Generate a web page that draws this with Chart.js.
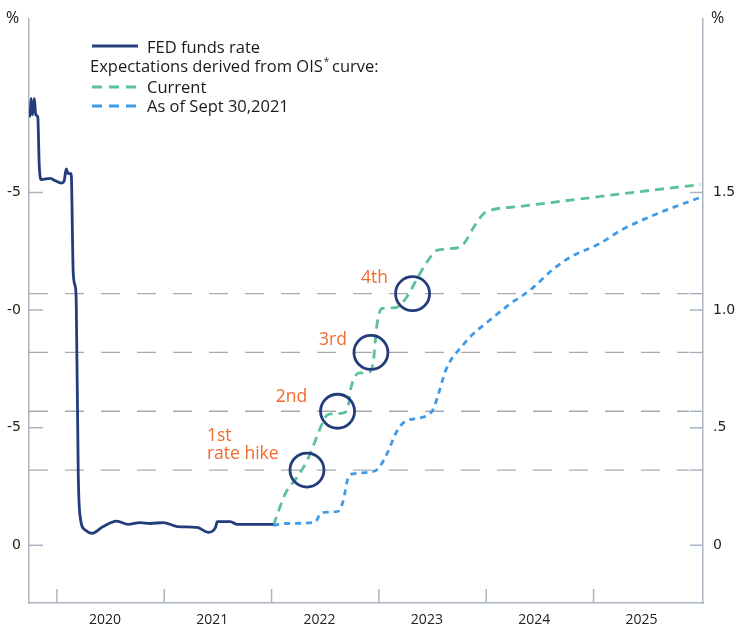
<!DOCTYPE html>
<html>
<head>
<meta charset="utf-8">
<script src="https://cdn.jsdelivr.net/npm/chart.js@4.4.1/dist/chart.umd.min.js"></script>
<style>
  html, body { margin: 0; padding: 0; background: #fff; }
  #wrap { width: 741px; height: 641px; }
</style>
</head>
<body>
<div id="wrap"><canvas id="fedChart"></canvas></div>
<script>
// FED funds rate (decimal years, %)
const fedDates = [2019.742, 2019.752, 2019.760, 2019.772, 2019.790, 2019.803, 2019.822, 2019.835, 2019.854,
  2019.938, 2019.984, 2020.040, 2020.068, 2020.087, 2020.105, 2020.133, 2020.152, 2020.171, 2020.180,
  2020.199, 2020.217, 2020.264, 2020.326, 2020.431, 2020.559, 2020.664, 2020.776, 2020.870, 2020.991,
  2021.121, 2021.308, 2021.410, 2021.478, 2021.494, 2021.615, 2021.680, 2021.988, 2022.016];
const fedRates = [1.82, 1.84, 1.90, 1.83, 1.90, 1.83, 1.82, 1.62, 1.555,
  1.56, 1.55, 1.54, 1.55, 1.60, 1.58, 1.58, 1.16, 1.10, 1.04,
  0.30, 0.12, 0.065, 0.051, 0.08, 0.103, 0.089, 0.097, 0.093, 0.097,
  0.080, 0.076, 0.055, 0.076, 0.101, 0.101, 0.089, 0.089, 0.089];

// Expectations derived from OIS curve: current
const currentDates = [2022.018, 2022.128, 2022.237, 2022.330, 2022.407, 2022.482, 2022.516, 2022.563, 2022.671,
  2022.718, 2022.733, 2022.780, 2022.808, 2022.901, 2022.948, 2022.966, 2022.982, 2023.029, 2023.153,
  2023.200, 2023.274, 2023.355, 2023.448, 2023.544, 2023.758, 2023.814, 2023.889, 2023.976, 2024.038,
  2024.317, 2024.690, 2025.063, 2025.436, 2025.995];
const currentRates = [0.085, 0.22, 0.289, 0.359, 0.444, 0.528, 0.553, 0.559, 0.563,
  0.60, 0.655, 0.718, 0.732, 0.735, 0.78, 0.866, 0.938, 1.007, 1.01,
  1.022, 1.065, 1.133, 1.204, 1.255, 1.267, 1.297, 1.356, 1.41, 1.424,
  1.441, 1.462, 1.483, 1.504, 1.534];

// Expectations as of Sept 30, 2021
const septDates = [2022.016, 2022.128, 2022.407, 2022.454, 2022.516, 2022.622, 2022.668, 2022.715, 2022.761,
  2022.966, 2023.013, 2023.075, 2023.169, 2023.246, 2023.321, 2023.495, 2023.554, 2023.619, 2023.681,
  2023.759, 2023.852, 2024.038, 2024.225, 2024.411, 2024.630, 2024.784, 2025.063, 2025.250, 2025.622,
  2025.995];
const septRates = [0.085, 0.093, 0.098, 0.135, 0.141, 0.145, 0.19, 0.289, 0.304,
  0.317, 0.338, 0.389, 0.486, 0.528, 0.537, 0.57, 0.642, 0.739, 0.795,
  0.838, 0.887, 0.959, 1.027, 1.086, 1.176, 1.225, 1.284, 1.338, 1.415,
  1.479];

// rate hikes
const hikeLevels = [0.32, 0.57, 0.82, 1.07];
const hikeDates = [2022.330, 2022.615, 2022.926, 2023.314];
const hikeLabels = [['1st', 'rate hike'], ['2nd'], ['3rd'], ['4th']];

const yearTicks = [2020, 2021, 2022, 2023, 2024, 2025, 2026];
const yearLabels = ['2020', '2021', '2022', '2023', '2024', '2025', ''];
const leftTicks = [0, 0.5, 1.0, 1.5];
const leftTickLabels = ['0', '-5', '-0', '-5'];
const rightTickLabels = ['0', '.5', '1.0', '1.5'];

const axisColor = '#aab5c1';
const fedColor = '#223d7a';
const currentColor = '#5cc09f';
const septColor = '#3f9ae8';
const orange = '#f26a2c';

function pts(xs, ys) {
  return xs.map((x, i) => ({ x: x, y: ys[i] }));
}

const extrasPlugin = {
  id: 'extras',
  beforeDatasetsDraw(chart) {
    const ctx = chart.ctx;
    const x = chart.scales.x, y = chart.scales.y;
    const a = chart.chartArea;
    ctx.save();
    // dashed hike levels
    ctx.strokeStyle = '#a3aab2';
    ctx.lineWidth = 1.3;
    hikeLevels.forEach(v => {
      const py = y.getPixelForValue(v);
      ctx.setLineDash([19, 17]);
      ctx.beginPath();
      ctx.moveTo(a.left, py);
      ctx.lineTo(a.right - 14, py);
      ctx.stroke();
      ctx.setLineDash([]);
      ctx.beginPath();
      ctx.moveTo(a.right - 13, py);
      ctx.lineTo(a.right, py);
      ctx.stroke();
    });
    // inward tick marks
    ctx.strokeStyle = axisColor;
    ctx.lineWidth = 1.5;
    leftTicks.forEach(v => {
      const py = y.getPixelForValue(v);
      ctx.beginPath();
      ctx.moveTo(a.left, py); ctx.lineTo(a.left + 14, py);
      ctx.moveTo(a.right, py); ctx.lineTo(a.right - 13, py);
      ctx.stroke();
    });
    yearTicks.slice(0, -1).forEach(t => {
      const px = x.getPixelForValue(t);
      ctx.beginPath();
      ctx.moveTo(px, a.bottom); ctx.lineTo(px, a.bottom - 14);
      ctx.stroke();
    });
    ctx.restore();
  },
  afterDatasetsDraw(chart) {
    const ctx = chart.ctx;
    const x = chart.scales.x, y = chart.scales.y;
    ctx.save();
    // circles and labels
    const offs = [[-100, -26], [-46, -14], [-38, -12], [-38, -16]];
    hikeDates.forEach((d, i) => {
      const cx = x.getPixelForValue(d), cy = y.getPixelForValue(hikeLevels[i]);
      ctx.strokeStyle = fedColor;
      ctx.lineWidth = 2.8;
      ctx.beginPath();
      ctx.arc(cx, cy, 17, 0, Math.PI * 2);
      ctx.stroke();
      ctx.fillStyle = orange;
      ctx.font = '17.5px "Open Sans"';
      ctx.textBaseline = 'middle';
      const lines = hikeLabels[i];
      if (lines.length > 1) {
        ctx.textAlign = 'left';
        ctx.fillText(lines[0], cx + offs[i][0], cy + offs[i][1] - 8);
        ctx.fillText(lines[1], cx + offs[i][0], cy + offs[i][1] + 10);
      } else {
        ctx.textAlign = 'center';
        ctx.fillText(lines[0], cx + offs[i][0], cy + offs[i][1]);
      }
    });

    // legend
    ctx.textAlign = 'left';
    ctx.textBaseline = 'alphabetic';
    ctx.fillStyle = '#1a1a1a';
    ctx.font = '16.5px "Open Sans"';
    ctx.lineWidth = 2.8;
    ctx.strokeStyle = fedColor;
    ctx.beginPath(); ctx.moveTo(92, 46); ctx.lineTo(138, 46); ctx.stroke();
    ctx.fillText('FED funds rate', 147, 53);
    const t1 = 'Expectations derived from OIS';
    ctx.fillText(t1, 90, 72);
    let w = ctx.measureText(t1).width;
    ctx.font = '10px "Open Sans"';
    ctx.fillText('*', 90 + w + 1, 65);
    ctx.font = '16.5px "Open Sans"';
    ctx.fillText(' curve:', 90 + w + 5, 72);
    ctx.setLineDash([10, 7]);
    ctx.strokeStyle = currentColor;
    ctx.beginPath(); ctx.moveTo(92, 87); ctx.lineTo(138, 87); ctx.stroke();
    ctx.fillText('Current', 147, 93);
    ctx.strokeStyle = septColor;
    ctx.beginPath(); ctx.moveTo(92, 106); ctx.lineTo(138, 106); ctx.stroke();
    ctx.fillText('As of Sept 30,2021', 147, 112);
    ctx.setLineDash([]);

    // percent signs
    ctx.font = '16px "Open Sans"';
    ctx.fillText('%', 6, 23);
    ctx.fillText('%', 711, 23);
    ctx.restore();
  }
};

const data = {
  datasets: [
    {
      label: 'FED funds rate',
      data: pts(fedDates, fedRates),
      borderColor: fedColor,
      borderWidth: 2.8,
      pointRadius: 0,
      cubicInterpolationMode: 'monotone',
      order: 1
    },
    {
      label: 'Current',
      data: pts(currentDates, currentRates),
      borderColor: currentColor,
      borderWidth: 2.8,
      borderDash: [9, 6],
      pointRadius: 0,
      cubicInterpolationMode: 'monotone',
      order: 3
    },
    {
      label: 'As of Sept 30,2021',
      data: pts(septDates, septRates),
      borderColor: septColor,
      borderWidth: 2.8,
      borderDash: [6, 5],
      pointRadius: 0,
      cubicInterpolationMode: 'monotone',
      order: 2
    }
  ]
};

const yMin = -0.245, yMax = 2.24;

const configChart = {
  type: 'line',
  data: data,
  options: {
    responsive: true,
    maintainAspectRatio: false,
    animation: false,
    layout: { padding: { top: 15, left: 0, right: 0, bottom: 0 } },
    plugins: { legend: { display: false }, tooltip: { enabled: false } },
    scales: {
      x: {
        type: 'linear',
        min: 2019.74,
        max: 2026.02,
        afterBuildTicks: s => { s.ticks = yearTicks.map(v => ({ value: v })); },
        afterFit: s => { s.height = 38; },
        grid: { display: false, drawTicks: false },
        border: { color: axisColor, width: 1.5 },
        ticks: {
          padding: 9,
          labelOffset: 48,
          color: '#222',
          font: { family: 'Open Sans', size: 14 },
          maxRotation: 0,
          autoSkip: false,
          callback: (v, i) => yearLabels[i]
        }
      },
      y: {
        position: 'left',
        min: yMin,
        max: yMax,
        afterBuildTicks: s => { s.ticks = leftTicks.map(v => ({ value: v })); },
        afterFit: s => { s.width = 29; },
        grid: { display: false, drawTicks: false },
        border: { color: axisColor, width: 1.5 },
        ticks: {
          padding: 8,
          color: '#222',
          font: { family: 'DejaVu Sans', size: 14 },
          callback: (v, i) => leftTickLabels[i]
        }
      },
      y2: {
        position: 'right',
        min: yMin,
        max: yMax,
        afterBuildTicks: s => { s.ticks = leftTicks.map(v => ({ value: v })); },
        afterFit: s => { s.width = 38; },
        grid: { display: false, drawTicks: false },
        border: { color: axisColor, width: 1.5 },
        ticks: {
          padding: 10,
          color: '#222',
          font: { family: 'DejaVu Sans', size: 14 },
          callback: (v, i) => rightTickLabels[i]
        }
      }
    }
  },
  plugins: [extrasPlugin]
};

let chart = new Chart(document.getElementById('fedChart'), configChart);
</script>
</body>
</html>
